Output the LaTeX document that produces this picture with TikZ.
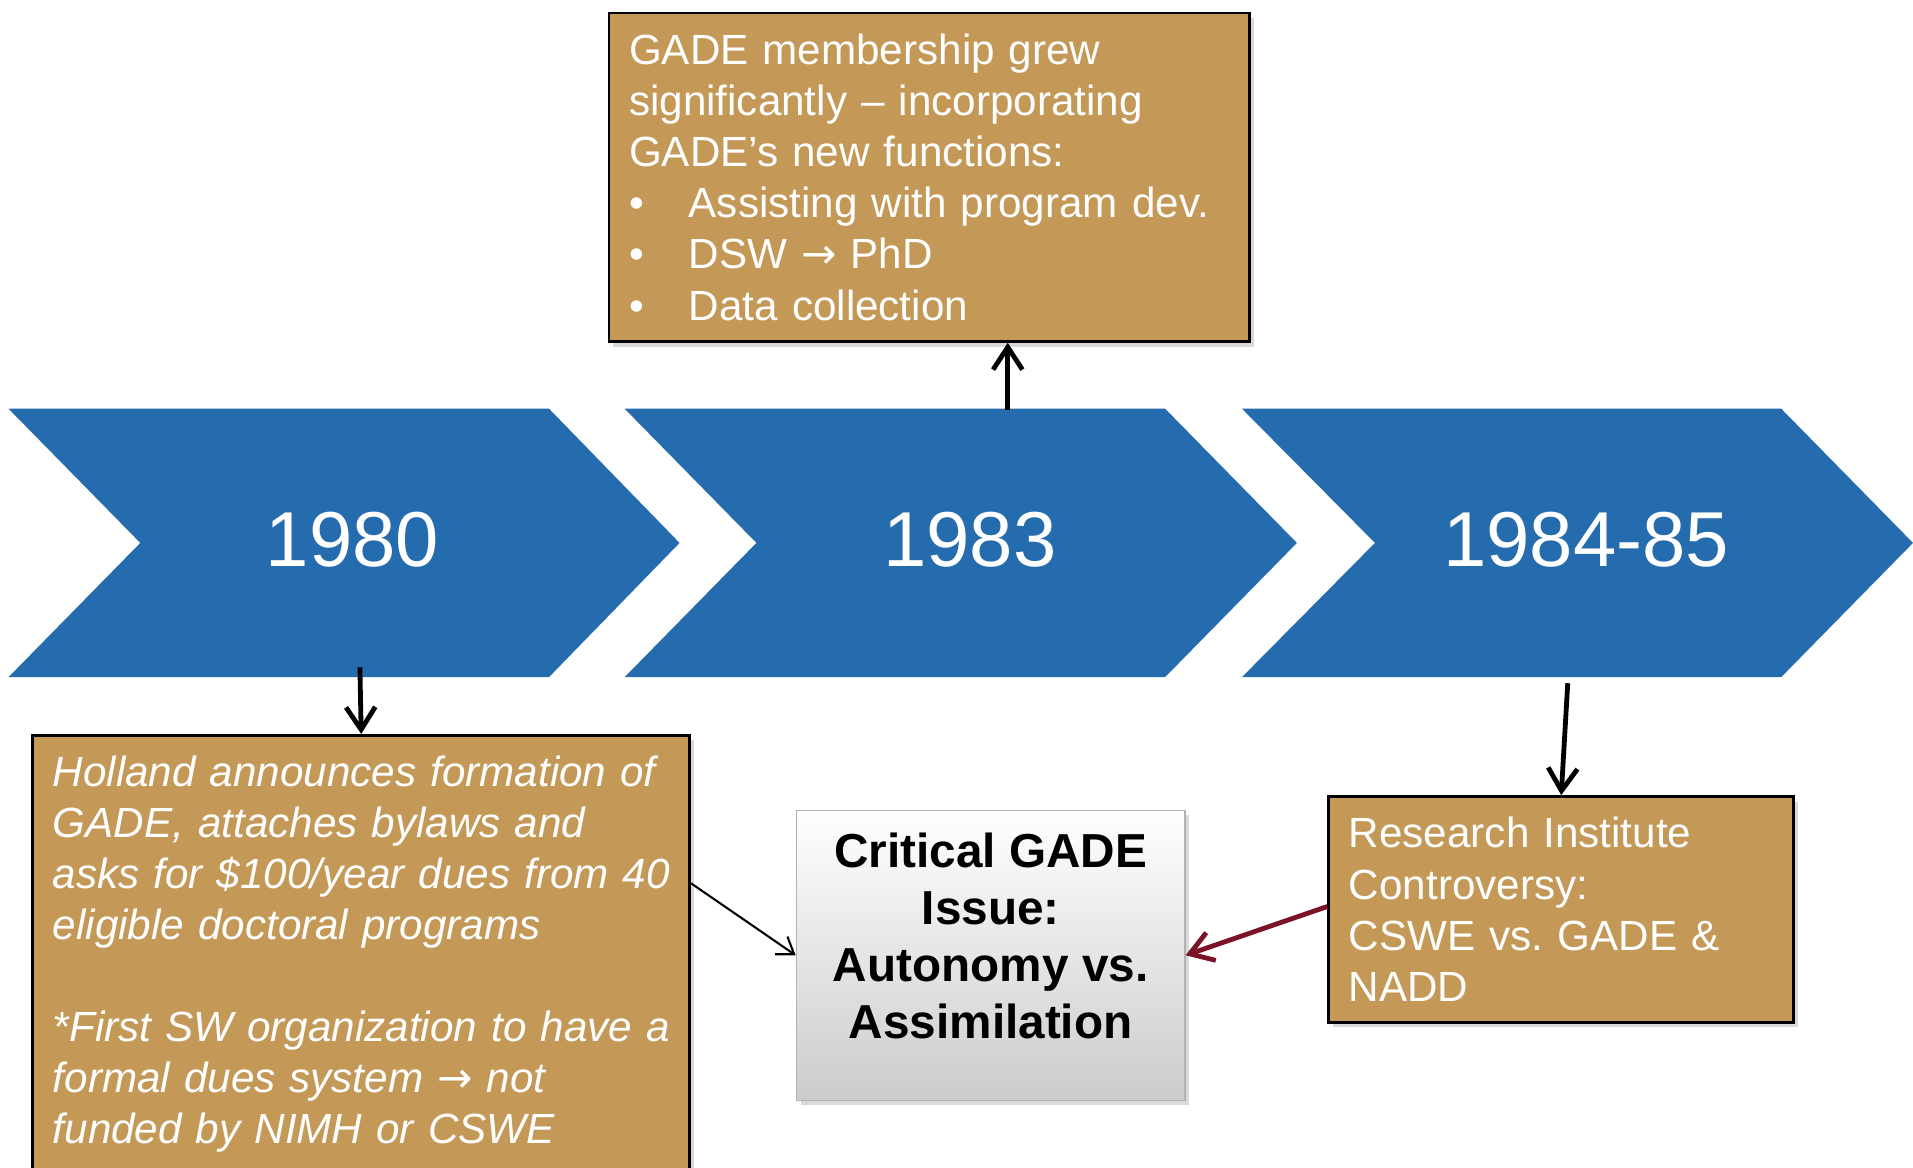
\documentclass[tikz,border=0pt]{standalone}
\usepackage{fontspec}
\setmainfont{Liberation Sans}
\newfontfamily\arrowfont{DejaVu Sans}
\usetikzlibrary{arrows.meta,shadows}

\definecolor{chevblue}{RGB}{37,108,174}
\definecolor{boxtan}{RGB}{196,153,87}
\definecolor{linkred}{RGB}{122,18,40}

\tikzset{
	tanbox/.style={draw=black, line width=0.8pt, fill=boxtan, text=white, anchor=north west, inner sep=0.206cm, align=left, font=\fontsize{12.3}{14.9}\selectfont, drop shadow={shadow xshift=1.2pt, shadow yshift=-1.5pt, opacity=0.3}},
	year/.style={text=white, font=\fontsize{22.7}{27}\selectfont},
	bigarrow/.style={-{Straight Barb[length=2.3mm, width=3mm]}, line width=1.4pt},
	thinarrow/.style={-{Straight Barb[length=1.6mm, width=2.2mm]}, line width=0.6pt},
	crit/.style={draw=black!30, top color=white, bottom color=black!20, minimum width=3.98cm, minimum height=2.97cm, inner sep=0pt, align=center, font=\bfseries\fontsize{13.9}{16.7}\selectfont, text depth=0.4cm, drop shadow={shadow xshift=1.2pt, shadow yshift=-1.5pt, opacity=0.3}}
}
\newcommand{\bul}{\makebox[0.6125cm][l]{\textbullet}}

\begin{document}
\frenchspacing
\begin{tikzpicture}[x=0.0125cm, y=-0.0125cm]
	\useasboundingbox (0,0) rectangle (1568,957);
	\fill [chevblue] (7,335) -- (450,335) -- (557,445) -- (450,555) -- (7,555) -- (115,445) -- cycle;
	\fill [chevblue] (512,335) -- (955,335) -- (1063,445) -- (955,555) -- (512,555) -- (620,445) -- cycle;
	\fill [chevblue] (1018,335) -- (1460,335) -- (1568,445) -- (1460,555) -- (1018,555) -- (1127,445) -- cycle;
	\node [year] (y80) at (289,442) {1980};
	\node [year] (y83) at (795,442) {1983};
	\node [year] (y84) at (1300,442) {1984-85};

	\node [tanbox, text width=6.15cm, minimum width=6.5625cm, minimum height=3.3625cm] (grew) at (498,9.6) {GADE membership grew\\
		significantly -- incorporating\\
		GADE's new functions:\\
		\bul Assisting with program dev.\\
		\bul DSW {\arrowfont →} PhD\\
		\bul Data collection};
	\node [tanbox, text width=6.317cm, font=\fontsize{12.3}{14.9}\selectfont\itshape] (hist) at (25.7,601.6) {Holland announces formation of\\
		GADE, attaches bylaws and\\
		\mbox{asks for \$100/year dues from 40}\\
		eligible doctoral programs\\[14.9pt]
		\mbox{*First SW organization to have a}\\
		formal dues system {\arrowfont →} not\\
		funded by NIMH or CSWE};
	\node [tanbox, text width=4.35cm, minimum width=4.7625cm, minimum height=2.3125cm] (res) at (1088,651.7) {Research Institute\\
		Controversy:\\
		CSWE vs. GADE \&\\
		NADD};
	\node [crit] (issue) at (812,783) {Critical GADE\\Issue:\\Autonomy vs.\\Assimilation};

	\coordinate (s80) at (295,547);
	\coordinate (s83) at (826,336);
	\coordinate (s84) at (1285,560);
	\draw [bigarrow] (s80) -- (hist.north);
	\draw [bigarrow] (s83) -- (s83 |- grew.south);
	\draw [bigarrow] (s84) -- (res.north);
	\draw [thinarrow] (hist.east |- 0,724) -- (issue.west);
	\draw [bigarrow, linkred] (res.west |- 0,743) -- (issue.east);
\end{tikzpicture}
\end{document}
